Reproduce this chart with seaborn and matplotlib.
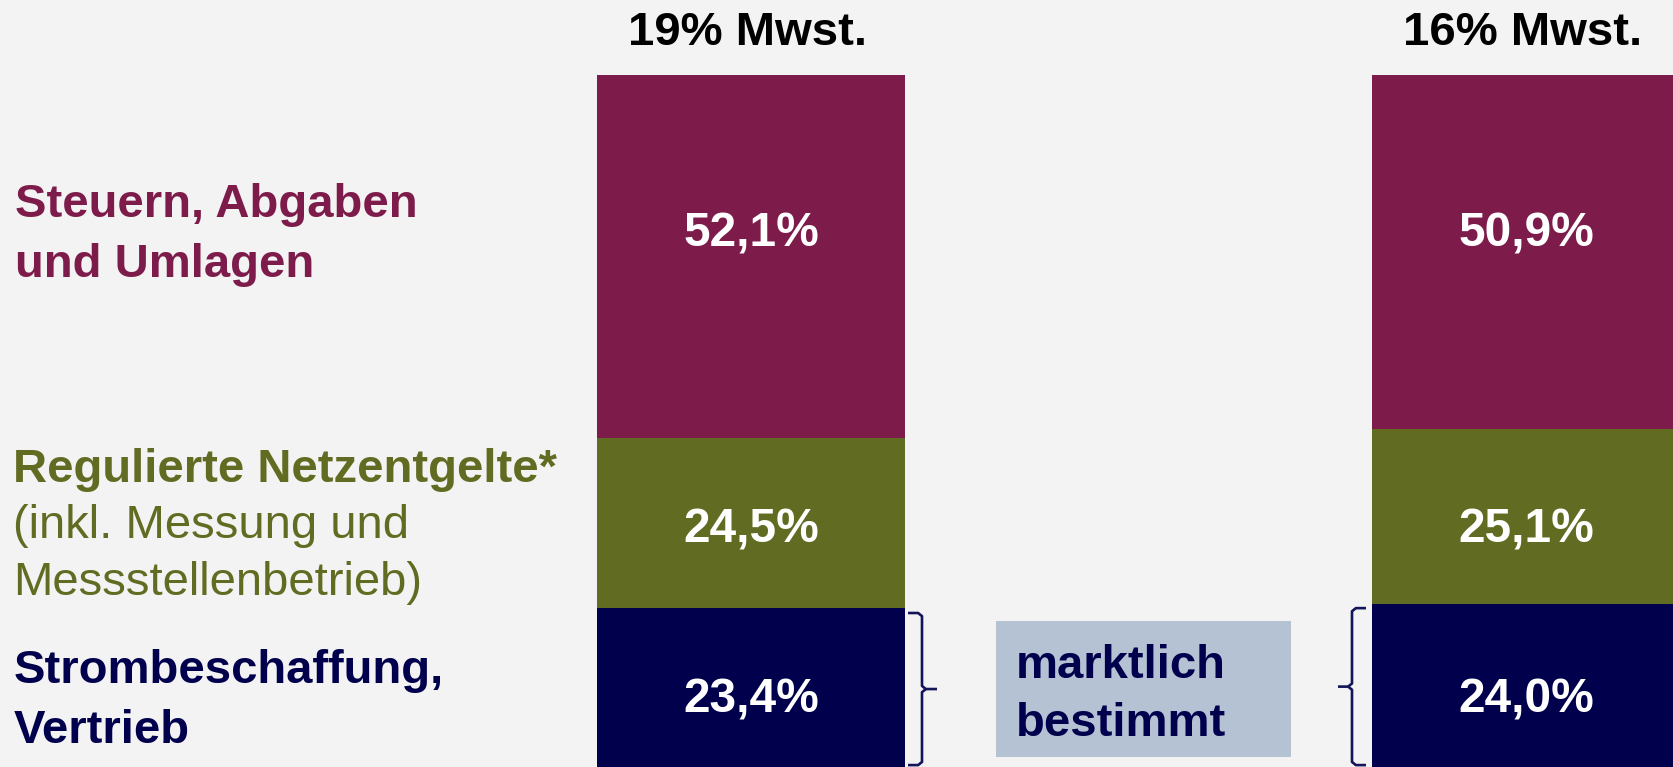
import matplotlib
matplotlib.use("Agg")
import matplotlib.pyplot as plt
import seaborn as sns
import numpy as np
from matplotlib.patches import Rectangle

# ---- data ----
categories = ["19% Mwst.", "16% Mwst."]
strom = [23.4, 24.0]      # Strombeschaffung, Vertrieb
netz = [24.5, 25.1]       # Regulierte Netzentgelte
steuern = [52.1, 50.9]    # Steuern, Abgaben und Umlagen
value_labels_strom = ["23,4%", "24,0%"]
value_labels_netz = ["24,5%", "25,1%"]
value_labels_steuern = ["52,1%", "50,9%"]

# ---- style ----
BG = "#F3F3F3"
PURPLE = "#7D1C4A"
GREEN = "#626B22"
NAVY = "#00004D"
BOX = "#B4C2D4"

sns.set_theme(style="white")
plt.rcParams["font.family"] = ["Liberation Sans", "DejaVu Sans"]

W, H = 1673, 767
PX_PER_UNIT = 6.96          # pixels per percentage point
Y0_PX = 771                 # pixel row of value 0
fig = plt.figure(figsize=(W / 100, H / 100), dpi=100, facecolor=BG)
ax = fig.add_axes([0, 0, 1, 1])
ax.set_facecolor(BG)

cum_netz = [s + n for s, n in zip(strom, netz)]
cum_all = [s + n + t for s, n, t in zip(strom, netz, steuern)]

bw = 0.3974
sns.barplot(x=categories, y=cum_all, color=PURPLE, saturation=1, width=bw, ax=ax, linewidth=0)
sns.barplot(x=categories, y=cum_netz, color=GREEN, saturation=1, width=bw, ax=ax, linewidth=0)
sns.barplot(x=categories, y=strom, color=NAVY, saturation=1, width=bw, ax=ax, linewidth=0)

ax.set_xlim(-751 / 775, (W - 751) / 775)
ax.set_ylim((Y0_PX - H) / PX_PER_UNIT, Y0_PX / PX_PER_UNIT)
ax.axis("off")


def py2y(py):
    return (Y0_PX - py) / PX_PER_UNIT


# baselines of the value rows (pixels)
row_base_strom = py2y(712)
row_base_netz = py2y(542)
row_base_steuern = py2y(247)
title_base = py2y(45)

VAL_FS = 34.5
for i in range(len(categories)):
    ax.text(i, row_base_strom, value_labels_strom[i], color="white", fontsize=VAL_FS,
            fontweight="bold", ha="center", va="baseline")
    ax.text(i, row_base_netz, value_labels_netz[i], color="white", fontsize=VAL_FS,
            fontweight="bold", ha="center", va="baseline")
    ax.text(i, row_base_steuern, value_labels_steuern[i], color="white",
            fontsize=VAL_FS, fontweight="bold", ha="center", va="baseline")
    # column titles
    ax.text(i - 0.005, title_base, categories[i], color="black", fontsize=34,
            fontweight="bold", ha="center", va="baseline")


def ftext(px, py, s, **kw):
    fig.text(px / W, 1 - py / H, s, va="baseline", ha="left", **kw)


LAB_FS = 34
# left category labels
ftext(15, 217, "Steuern, Abgaben", color=PURPLE, fontsize=LAB_FS, fontweight="bold")
ftext(15, 277, "und Umlagen", color=PURPLE, fontsize=LAB_FS, fontweight="bold")
ftext(13, 482, "Regulierte Netzentgelte*", color=GREEN, fontsize=LAB_FS, fontweight="bold")
ftext(13, 538, "(inkl. Messung und", color=GREEN, fontsize=LAB_FS)
ftext(13, 595, "Messstellenbetrieb)", color=GREEN, fontsize=LAB_FS)
ftext(14, 683, "Strombeschaffung,", color=NAVY, fontsize=LAB_FS, fontweight="bold")
ftext(14, 743, "Vertrieb", color=NAVY, fontsize=LAB_FS, fontweight="bold")

# "marktlich bestimmt" box
fig.add_artist(Rectangle((996 / W, 1 - 757 / H), (1291 - 996) / W, (757 - 621) / H,
                         transform=fig.transFigure, facecolor=BOX, edgecolor="none"))
ftext(1016, 678, "marktlich", color=NAVY, fontsize=LAB_FS, fontweight="bold")
ftext(1016, 736, "bestimmt", color=NAVY, fontsize=LAB_FS, fontweight="bold")


# braces around the Strombeschaffung segments
def brace(x_line, x_end, x_tip, y_top, y_bot, r=0.45):
    ymid = (y_top + y_bot) / 2
    d = 0.005 if x_tip > x_line else -0.005
    ax.plot([x_end, x_line - d, x_line, x_line, x_line + d, x_tip],
            [y_top, y_top, y_top - r, ymid + r, ymid, ymid],
            color="#14145A", lw=1.9, solid_capstyle="butt", clip_on=False)
    ax.plot([x_line + d, x_line, x_line, x_line - d, x_end],
            [ymid, ymid - r, y_bot + r, y_bot, y_bot],
            color="#14145A", lw=1.9, solid_capstyle="butt", clip_on=False)


# bar 0: brace on the right, tip pointing right
brace((922 - 751) / 775, (908 - 751) / 775, (937 - 751) / 775,
      strom[0] - 0.7, 0.85)
# bar 1: brace on the left, tip pointing left
brace((1352 - 751) / 775, (1366 - 751) / 775, (1338 - 751) / 775,
      strom[1] - 0.6, 0.85)

fig.savefig("out.png", dpi=100, facecolor=BG)
